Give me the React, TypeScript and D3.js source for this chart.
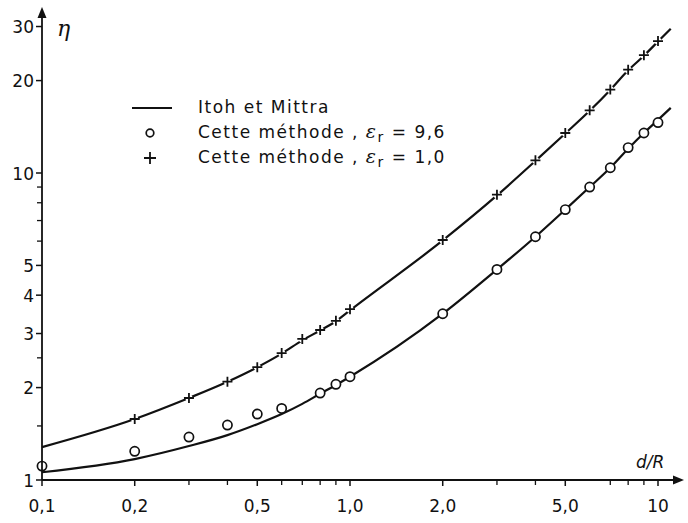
import React from "react";
import * as d3 from "d3";

const W = 688;
const H = 523;

// Itoh et Mittra curves (η vs d/R)
const curveX = [0.1, 0.2, 0.3, 0.4, 0.5, 0.6, 0.7, 0.8, 0.9, 1.0, 2.0, 3.0, 4.0, 5.0, 6.0, 7.0, 8.0, 9.0, 10, 11];
const itohEr1 = [1.28, 1.58, 1.85, 2.09, 2.33, 2.58, 2.85, 3.07, 3.29, 3.57, 6.03, 8.45, 10.95, 13.45, 15.95, 18.65, 21.6, 24.1, 26.8, 29.5];
const itohEr96 = [1.06, 1.17, 1.29, 1.4, 1.52, 1.64, 1.77, 1.91, 2.04, 2.17, 3.48, 4.85, 6.2, 7.6, 9.0, 10.4, 12.0, 13.5, 14.9, 16.3];

// Cette méthode, εr = 9,6 (circles)
const circX = [0.1, 0.2, 0.3, 0.4, 0.5, 0.6, 0.8, 0.9, 1.0, 2.0, 3.0, 4.0, 5.0, 6.0, 7.0, 8.0, 9.0, 10];
const circY = [1.11, 1.24, 1.38, 1.51, 1.64, 1.71, 1.92, 2.05, 2.17, 3.48, 4.85, 6.2, 7.6, 9.0, 10.4, 12.1, 13.5, 14.6];

// Cette méthode, εr = 1,0 (plus)
const plusX = [0.2, 0.3, 0.4, 0.5, 0.6, 0.7, 0.8, 0.9, 1.0, 2.0, 3.0, 4.0, 5.0, 6.0, 7.0, 8.0, 9.0, 10];
const plusY = [1.58, 1.85, 2.09, 2.33, 2.59, 2.88, 3.08, 3.3, 3.6, 6.05, 8.5, 11.0, 13.5, 16.0, 18.7, 21.7, 24.2, 26.9];

const xTickVals = [0.1, 0.2, 0.5, 1, 2, 5, 10];
const xTickLabels = ["0,1", "0,2", "0,5", "1,0", "2,0", "5,0", "10"];
const xMinor = [0.3, 0.4, 0.6, 0.7, 0.8, 0.9, 3, 4, 7, 8, 9];
const yTickVals = [1, 2, 3, 4, 5, 10, 20, 30];
const yTickLabels = ["1", "2", "3", "4", "5", "10", "20", "30"];
const yMinor = [1.5, 2.5, 6, 7, 8, 9];

const font = "'DejaVu Sans', sans-serif";
const greek = "'DejaVu Serif', serif";

export default function App() {
  const x = d3.scaleLog().domain([0.1, 10]).range([42, 658]);
  const y = d3.scaleLog().domain([1, 10]).range([480, 173]);

  const line = d3
    .line<[number, number]>()
    .x((d) => x(d[0]))
    .y((d) => y(d[1]))
    .curve(d3.curveMonotoneX);

  const upper = curveX.map((v, i) => [v, itohEr1[i]] as [number, number]);
  const lower = curveX.map((v, i) => [v, itohEr96[i]] as [number, number]);

  const x0 = x(0.1);
  const y0 = y(1);

  return (
    <svg
      width={W}
      height={H}
      style={{ position: "absolute", left: 0, top: 0, background: "#fff" }}
      fontFamily={font}
    >
      <rect width={W} height={H} fill="#fff" />

      {/* curves */}
      <path d={line(upper) || ""} fill="none" stroke="#111" strokeWidth={2.2} />
      <path d={line(lower) || ""} fill="none" stroke="#111" strokeWidth={2.2} />

      {/* circles */}
      {circX.map((v, i) => (
        <circle key={"c" + i} cx={x(v)} cy={y(circY[i])} r={4.6} fill="#fff" stroke="#111" strokeWidth={1.7} />
      ))}

      {/* plus markers */}
      {plusX.map((v, i) => {
        const cx = x(v);
        const cy = y(plusY[i]);
        return (
          <g key={"p" + i}>
            <circle cx={cx} cy={cy} r={3.5} fill="#fff" />
            <path d={`M${cx - 5},${cy}H${cx + 5}M${cx},${cy - 5}V${cy + 5}`} stroke="#111" strokeWidth={1.8} />
          </g>
        );
      })}

      {/* axes */}
      <line x1={x0} y1={y0} x2={676} y2={y0} stroke="#111" strokeWidth={1.8} />
      <path d={`M684,${y0}L673,${y0 - 4.5}L673,${y0 + 4.5}Z`} fill="#111" />
      <line x1={x0} y1={y0} x2={x0} y2={16} stroke="#111" strokeWidth={1.8} />
      <path d={`M${x0},7L${x0 - 4.5},18L${x0 + 4.5},18Z`} fill="#111" />

      {xTickVals.map((v, i) => (
        <g key={"xt" + i}>
          <line x1={x(v)} x2={x(v)} y1={y0} y2={y0 + 6} stroke="#111" strokeWidth={1.5} />
          <text x={x(v)} y={512} textAnchor="middle" fontSize={17} fill="#111">
            {xTickLabels[i]}
          </text>
        </g>
      ))}
      {xMinor.map((v, i) => (
        <line key={"xm" + i} x1={x(v)} x2={x(v)} y1={y0} y2={y0 + 5} stroke="#111" strokeWidth={1.3} />
      ))}

      {yTickVals.map((v, i) => (
        <g key={"yt" + i}>
          <line x1={x0 - 6} x2={x0} y1={y(v)} y2={y(v)} stroke="#111" strokeWidth={1.5} />
          <text x={x0 - 8} y={y(v) + 6.5} textAnchor="end" fontSize={17} fill="#111">
            {yTickLabels[i]}
          </text>
        </g>
      ))}
      {yMinor.map((v, i) => (
        <line key={"ym" + i} x1={x0 - 5} x2={x0} y1={y(v)} y2={y(v)} stroke="#111" strokeWidth={1.3} />
      ))}

      {/* axis labels */}
      <text x={57} y={36} fontSize={22} fontStyle="italic" fontFamily={greek} fill="#111">
        η
      </text>
      <text x={636} y={468} fontSize={17} fontStyle="italic" fill="#111">
        d/R
      </text>

      {/* legend */}
      <line x1={132} x2={172} y1={108} y2={108} stroke="#111" strokeWidth={2.2} />
      <text x={198} y={113} fontSize={17} letterSpacing={1.5} fill="#111">Itoh et Mittra</text>
      <circle cx={150} cy={133} r={3.8} fill="#fff" stroke="#111" strokeWidth={1.7} />
      <text x={198} y={138} fontSize={17} letterSpacing={1.5} fill="#111">
        Cette méthode ,{" "}
        <tspan fontFamily={greek} fontStyle="italic" fontSize={19}>ε</tspan>
        <tspan dy={4} fontSize={14}>r</tspan>
        <tspan dy={-4}> = 9,6</tspan>
      </text>
      <path d="M144,158H156M150,152V164" stroke="#111" strokeWidth={1.8} />
      <text x={198} y={163} fontSize={17} letterSpacing={1.5} fill="#111">
        Cette méthode ,{" "}
        <tspan fontFamily={greek} fontStyle="italic" fontSize={19}>ε</tspan>
        <tspan dy={4} fontSize={14}>r</tspan>
        <tspan dy={-4}> = 1,0</tspan>
      </text>
    </svg>
  );
}
